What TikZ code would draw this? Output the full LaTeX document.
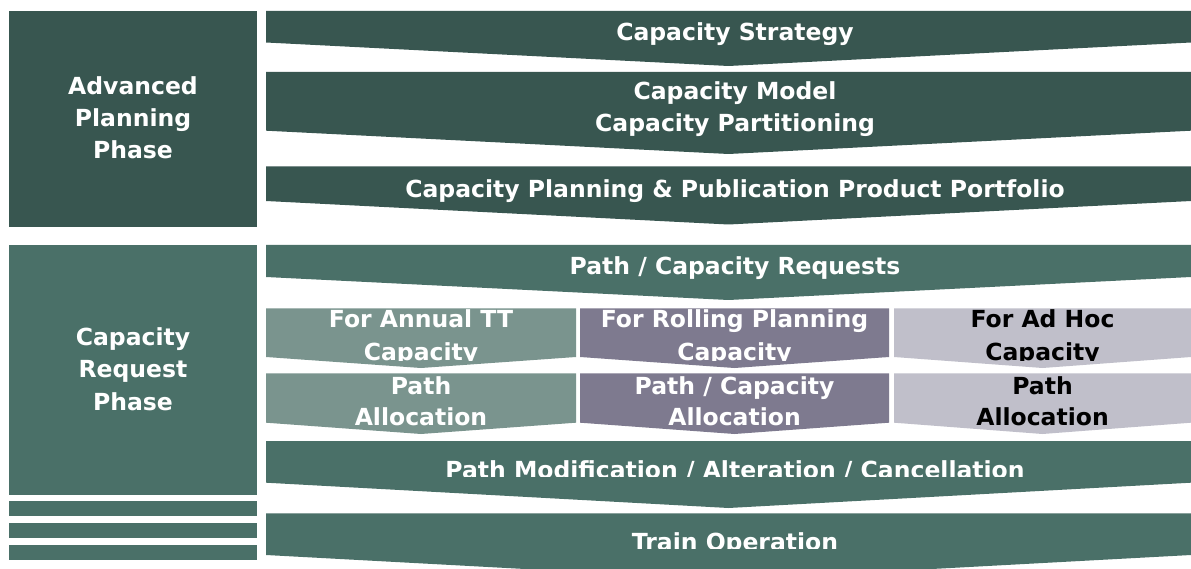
\documentclass[tikz,border=0pt]{standalone}
\usepackage{fontspec}
\setmainfont{DejaVu Sans}
\definecolor{darkg}{HTML}{385650}
\definecolor{midg}{HTML}{4A7068}
\definecolor{annualc}{HTML}{7A948E}
\definecolor{rollingc}{HTML}{7E7A8F}
\definecolor{adhocc}{HTML}{C0BFCA}
\newcommand\chevband[6]{\fill[#6] (#1,#3) -- (#2,#3) -- (#2,#4) -- ({(#1+#2)/2},#5) -- (#1,#4) -- cycle;}
\begin{document}
\begin{tikzpicture}[x=1pt,y=-1pt,
  lbl/.style={font=\bfseries\fontsize{23.5}{32}\selectfont, text=white, inner sep=0pt, anchor=base},
  dlbl/.style={lbl, text=black}]
\clip (0,0) rectangle (1191,569);
\fill[white] (0,0) rectangle (1191,569);
% left phase boxes
\fill[darkg] (9,11) rectangle (257,227);
\fill[midg] (9,245) rectangle (257,495);
\fill[midg] (9,501) rectangle (257,516);
\fill[midg] (9,523) rectangle (257,538);
\fill[midg] (9,545) rectangle (257,560);
\node[lbl] (adv1) at (133,95) {Advanced};
\node[lbl] (adv2) at (133,127) {Planning};
\node[lbl] (adv3) at (133,159) {Phase};
\node[lbl] (req1) at (133,345) {Capacity};
\node[lbl] (req2) at (133,377.5) {Request};
\node[lbl] (req3) at (133,410) {Phase};
% bands
\chevband{266}{1191}{11}{42.5}{66}{darkg}
\chevband{266}{1191}{72}{130.7}{154}{darkg}
\chevband{266}{1191}{166.3}{201}{224.5}{darkg}
\chevband{266}{1191}{245}{277}{300}{midg}
\chevband{266}{576}{308.3}{357}{368}{annualc}
\chevband{580}{889}{308.3}{357}{368}{rollingc}
\chevband{894}{1191}{308.3}{357}{368}{adhocc}
\chevband{266}{576}{373.3}{422.7}{434}{annualc}
\chevband{580}{889}{373.3}{422.7}{434}{rollingc}
\chevband{894}{1191}{373.3}{422.7}{434}{adhocc}
\chevband{266}{1191}{441}{482.7}{508}{midg}
\chevband{266}{1191}{513.3}{555}{580}{midg}
% band texts
\node[lbl] (strat) at (735,41) {Capacity Strategy};
\node[lbl] (model) at (735,99.5) {Capacity Model};
\node[lbl] (part) at (735,131.7) {Capacity Partitioning};
\node[lbl] (plan) at (735,197.7) {Capacity Planning \& Publication Product Portfolio};
\node[lbl] (reqs) at (735,275) {Path / Capacity Requests};
\begin{scope}
\clip (266,300) rectangle (1191,360.7);
\node[lbl] (ann1) at (421,327) {For Annual TT};
\node[lbl] (ann2) at (421,360) {Capacity};
\node[lbl] (rol1) at (734.5,327) {For Rolling Planning};
\node[lbl] (rol2) at (734.5,360) {Capacity};
\node[dlbl] (adh1) at (1042.5,327) {For Ad Hoc};
\node[dlbl] (adh2) at (1042.5,360) {Capacity};
\end{scope}
\begin{scope}
\clip (266,370) rectangle (1191,426.7);
\node[lbl] (pa1) at (421,394.3) {Path};
\node[lbl] (pa2) at (421,425.3) {Allocation};
\node[lbl] (pc1) at (734.5,394.3) {Path / Capacity};
\node[lbl] (pc2) at (734.5,425.3) {Allocation};
\node[dlbl] (ph1) at (1042.5,394.3) {Path};
\node[dlbl] (ph2) at (1042.5,425.3) {Allocation};
\end{scope}
\begin{scope}
\clip (266,441) rectangle (1191,476);
\node[lbl] (mod) at (735,478.7) {Path Modification / Alteration / Cancellation};
\end{scope}
\begin{scope}
\clip (266,513) rectangle (1191,548);
\node[lbl] (train) at (735,550) {Train Operation};
\end{scope}
\end{tikzpicture}
\end{document}
